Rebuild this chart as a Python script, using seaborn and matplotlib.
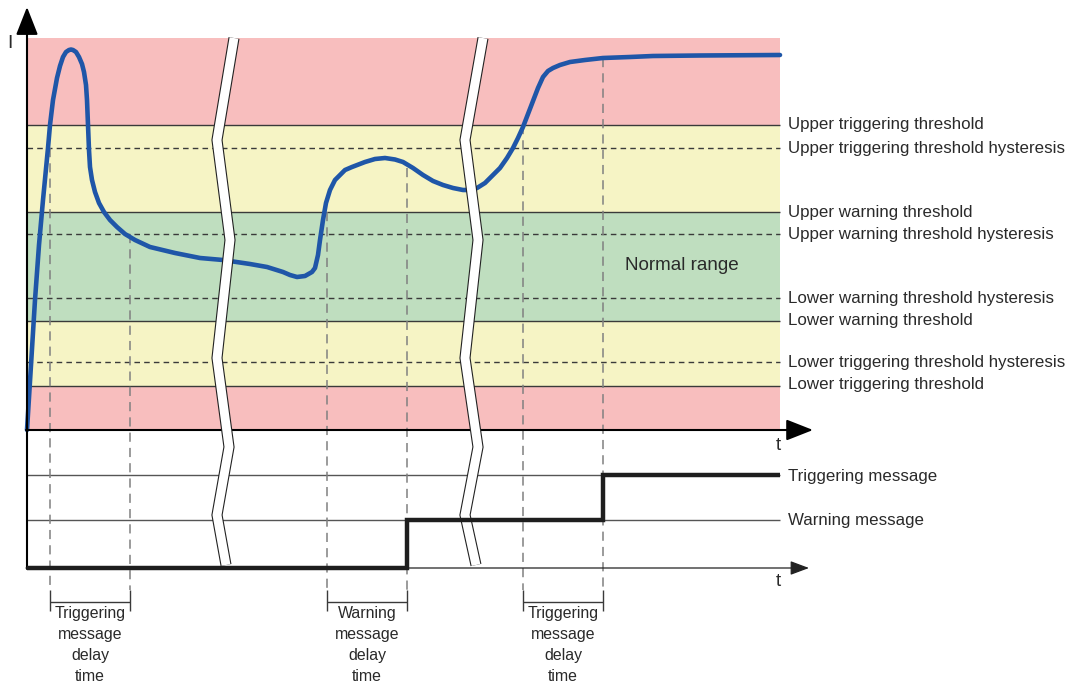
import numpy as np
import pandas as pd
import seaborn as sns
import matplotlib.pyplot as plt

# ---- data (diagram units: x = time, y = drawing level, top-down) ----
curve_t = [27, 31, 35, 39, 43, 48, 50, 53, 57, 60, 63, 66, 69, 71, 73, 76, 79, 82,
           84, 86, 87, 88, 89, 90, 92, 95, 99, 104, 110, 117, 125, 135, 150, 175,
           200, 223, 250, 267, 283, 290, 297, 305, 312, 315, 318, 320, 323, 326,
           330, 335, 345, 352, 365, 375, 385, 395, 403, 413, 423, 433, 443, 453,
           463, 470, 477, 485, 493, 500, 507, 513, 518, 523, 528, 533, 538, 543,
           548, 553, 560, 570, 585, 603, 630, 653, 700, 780]
curve_i = [430, 365, 300, 245, 200, 148, 125, 100, 78, 66, 57, 52, 50, 49.5, 50,
           52, 57, 64, 72, 85, 100, 125, 150, 167, 180, 192, 203, 212, 220, 227, 234,
           240, 247, 253, 258, 260, 264, 267, 272, 275, 277, 276, 272, 268, 255, 240,
           220, 203, 190, 180, 170, 167, 162, 159, 158, 159.5, 162, 168, 175, 181, 185,
           188, 190, 190, 188, 183, 175, 168, 158, 148, 138, 127, 114, 101, 88, 77, 71,
           68, 65, 62, 60, 58, 57, 56, 55.5, 55]

signal_t = [27, 407, 407, 603, 603, 780]
signal_v = [568, 568, 520, 520, 475, 475]

zone_edges = [38, 125, 212, 321, 386, 430]
zone_colors = ["#f8bebe", "#f6f4c5", "#bfdebf", "#f6f4c5", "#f8bebe"]

solid_levels = [125, 212, 321, 386]
dashed_levels = [148, 234, 298, 362]
label_levels = [124, 148, 212, 234, 298, 321, 362, 385, 476, 520]
label_texts = ["Upper triggering threshold",
               "Upper triggering threshold hysteresis",
               "Upper warning threshold",
               "Upper warning threshold hysteresis",
               "Lower warning threshold hysteresis",
               "Lower warning threshold",
               "Lower triggering threshold hysteresis",
               "Lower triggering threshold",
               "Triggering message",
               "Warning message"]
message_levels = [475, 520]

mark_t = [50, 130, 327, 407, 523, 603]
mark_top = [148, 234, 212, 168, 125, 58]
delay_starts = [50, 327, 523]
delay_ends = [130, 407, 603]
delay_texts = ["Triggering\nmessage\ndelay\ntime",
               "Warning\nmessage\ndelay\ntime",
               "Triggering\nmessage\ndelay\ntime"]

break_y = [38, 140, 240, 358, 447, 515, 565]
break1_x = [234, 217, 230, 217, 229, 217, 226]
break2_x = [483, 465, 478, 465, 478, 465, 476]

sns.set_theme(style="white")
plt.rcParams['font.family'] = ['Liberation Sans', 'DejaVu Sans']
TXT = "#2a2a2a"

fig = plt.figure(figsize=(10.65, 6.84), dpi=100)
ax = fig.add_axes([0, 0, 1, 1])
ax.set_xlim(0, 1065)
ax.set_ylim(684, 0)
ax.axis("off")

x0, x1 = 27, 780

# colored zones
for top, bot, c in zip(zone_edges[:-1], zone_edges[1:], zone_colors):
    ax.fill_between([x0, x1], top, bot, color=c, lw=0, zorder=0)

# threshold lines
ax.hlines(solid_levels, x0, x1, color="#3a3a3a", lw=1.0, zorder=1)
ax.hlines(dashed_levels, x0, x1, color="#3a3a3a", lw=1.0,
          linestyles=(0, (4, 3)), zorder=1)
ax.hlines(message_levels, x0, x1, color="#555555", lw=1.0, zorder=1)

# vertical delay markers
ax.vlines(mark_t, mark_top, 590, color="#808080", lw=1.1,
          linestyles=(0, (6, 4)), zorder=2)
ax.vlines(mark_t, 590, 611, color="#3a3a3a", lw=1.0, zorder=2)
ax.hlines([602] * 3, delay_starts, delay_ends, color="#3a3a3a", lw=1.0, zorder=2)
for s, e, txt in zip(delay_starts, delay_ends, delay_texts):
    ax.text((s + e) / 2, 606, txt, ha="center", va="top", fontsize=11.4,
            color=TXT, linespacing=1.5)

# current curve
df_curve = pd.DataFrame({"t": curve_t, "i": curve_i})
sns.lineplot(data=df_curve, x="t", y="i", sort=False, estimator=None,
             color="#1f56a8", lw=3.3, ax=ax, zorder=4,
             solid_joinstyle="round", solid_capstyle="round")

# axes with arrows
ax.annotate("", xy=(x0, 7), xytext=(x0, 569),
            arrowprops=dict(arrowstyle="-|>,head_length=1.73,head_width=0.68",
                            color="black", lw=1.5, mutation_scale=10,
                            shrinkA=0, shrinkB=0), zorder=5)
ax.annotate("", xy=(813, 430), xytext=(x0 - 1, 430),
            arrowprops=dict(arrowstyle="-|>,head_length=1.65,head_width=0.65",
                            color="black", lw=1.5, mutation_scale=10,
                            shrinkA=0, shrinkB=0), zorder=5)
ax.annotate("", xy=(809, 568), xytext=(x0 - 1, 568),
            arrowprops=dict(arrowstyle="-|>,head_length=1.15,head_width=0.43",
                            color="#222222", lw=0.9, mutation_scale=10,
                            shrinkA=0, shrinkB=0), zorder=5)

# break marks
for bx in (break1_x, break2_x):
    ax.plot(bx, break_y, color="#222222", lw=8.0, solid_joinstyle="miter",
            solid_capstyle="butt", zorder=10)
    ax.plot(bx, break_y, color="white", lw=6.4, solid_joinstyle="miter",
            solid_capstyle="butt", zorder=10)

# message signal
df_sig = pd.DataFrame({"t": signal_t, "v": signal_v})
sns.lineplot(data=df_sig, x="t", y="v", sort=False, estimator=None,
             color="#1e1e1e", lw=3.2, ax=ax, zorder=11,
             solid_joinstyle="miter", solid_capstyle="butt")

# labels
for y, txt in zip(label_levels, label_texts):
    ax.text(788, y, txt, ha="left", va="center", fontsize=12.2, color=TXT)
ax.text(682, 266, "Normal range", ha="center", va="center", fontsize=13.6,
        color=TXT)
ax.text(10, 43, "I", ha="center", va="center", fontsize=14, color=TXT)
ax.text(778, 445, "t", ha="center", va="center", fontsize=13.5, color=TXT)
ax.text(778, 582, "t", ha="center", va="center", fontsize=13.5, color=TXT)

ax.set_xlabel("")
ax.set_ylabel("")
fig.savefig("out.png", dpi=100)
plt.close(fig)
